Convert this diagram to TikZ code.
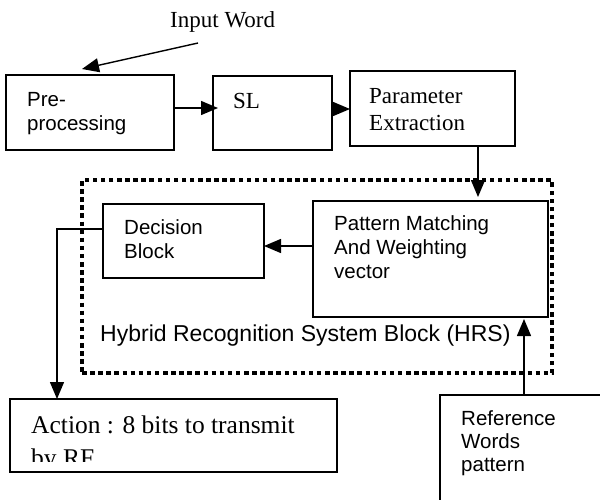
\documentclass[tikz,border=0pt]{standalone}
\usepackage{fontspec}
\setmainfont{Liberation Serif}
\newfontfamily\arialfont{Liberation Sans}
\usetikzlibrary{arrows.meta,calc}

\tikzset{
  blk/.style={draw, line width=1.5pt, rectangle, inner sep=0pt, outer sep=0pt, anchor=north west},
  hrsframe/.style={draw, line width=4.5pt, dash pattern=on 4.5pt off 3.6pt, rectangle, inner sep=0pt, outer sep=0pt, anchor=north west},
  arr/.style={line width=1.4pt, -{Triangle[length=17pt,width=14pt]}},
  sanslbl/.style={anchor=base west, inner sep=0pt, font=\arialfont\fontsize{20.5pt}{24pt}\selectfont},
  seriflbl/.style={anchor=base west, inner sep=0pt, font=\fontsize{23pt}{27pt}\selectfont},
  actlbl/.style={anchor=base west, inner sep=0pt, font=\fontsize{25.5pt}{30pt}\selectfont},
}

\begin{document}
\begin{tikzpicture}[x=1pt, y=-1pt]
  \clip (0,0) rectangle (600,499);
  \fill[white] (0,0) rectangle (600,499);

  % dotted frame of the recognition system
  \node[hrsframe, minimum width=470pt, minimum height=193pt] (hrs) at (82,180) {};

  % blocks
  \node[blk, minimum width=168pt, minimum height=75pt] (pre) at (6,75) {};
  \node[blk, minimum width=119pt, minimum height=74pt] (sl) at (213,76) {};
  \node[blk, minimum width=165pt, minimum height=75pt] (par) at (350,71) {};
  \node[blk, minimum width=235pt, minimum height=116pt] (pm) at (313,201) {};
  \node[blk, minimum width=161pt, minimum height=74pt] (dec) at (103,204) {};
  \node[blk, minimum width=327pt, minimum height=73pt] (act) at (10,399) {};
  \node[blk, minimum width=180pt, minimum height=125pt] (ref) at (440,395) {};

  % labels
  \node[seriflbl] (inw) at (170,27) {Input Word};
  \node[sanslbl] (preA) at (27,106) {Pre-};
  \node[sanslbl] (preB) at (27,130) {processing};
  \node[seriflbl] (slt) at (233,108) {SL};
  \node[seriflbl] (parA) at (369,103) {Parameter};
  \node[seriflbl] (parB) at (369,130) {Extraction};
  \node[sanslbl] (pmA) at (334,230) {Pattern Matching};
  \node[sanslbl] (pmB) at (334,254) {And Weighting};
  \node[sanslbl] (pmC) at (334,278) {vector};
  \node[sanslbl] (decA) at (124,234) {Decision};
  \node[sanslbl] (decB) at (124,258) {Block};
  \node[anchor=base west, inner sep=0pt, font=\arialfont\fontsize{23pt}{27pt}\selectfont] (hrst) at (100,341) {Hybrid Recognition System Block (HRS)};
  \node[sanslbl] (refA) at (461,425) {Reference};
  \node[sanslbl] (refB) at (461,448) {Words};
  \node[sanslbl] (refC) at (461,471) {pattern};
  % the second line overflows the action box and is cut off
  \begin{scope}
    \clip (12,401) rectangle (335,461);
    \node[actlbl] (actA) at (31,433) {Action : 8 bits to transmit};
    \node[actlbl] (actB) at (31,466) {by RF};
  \end{scope}

  % connectors
  \coordinate (inw-src) at (198,43);
  \draw[arr] (inw-src) -- ($(pre.north west)+(76,-6)$);
  \draw[arr, shorten >=-5pt] ([yshift=4.5pt]pre.east) -- ([yshift=4.5pt]pre.east -| sl.west);
  \draw[arr] ([yshift=4pt]sl.east) -- ([yshift=4pt]sl.east -| par.west);
  \draw[arr, shorten >=4pt] ([xshift=45.5pt]par.south) -- ([xshift=45.5pt]par.south |- pm.north);
  \draw[arr] ([yshift=-5pt]dec.east -| pm.west) -- ([yshift=-5pt]dec.east);
  \draw[arr] ([yshift=12pt]dec.west) -| ([xshift=47pt]act.north west);
  \draw[arr, shorten >=2pt] ([xshift=84pt]ref.north west) -- ([xshift=84pt]ref.north west |- pm.south);
\end{tikzpicture}
\end{document}
